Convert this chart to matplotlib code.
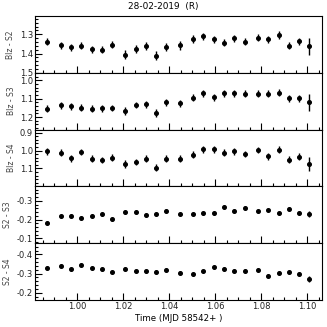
import numpy as np
import matplotlib.pyplot as plt

# time of each observation (MJD - 58542)
mjd = [0.98696, 0.99291, 0.99739, 1.00187, 1.00639, 1.01087, 1.01535, 1.02100,
       1.02552, 1.02987, 1.03435, 1.03870, 1.04478, 1.05043, 1.05491, 1.05943,
       1.06391, 1.06839, 1.07291, 1.07870, 1.08317, 1.08770, 1.09204, 1.09652,
       1.10087]

blz_s2 = [1.339, 1.358, 1.367, 1.360, 1.377, 1.381, 1.354, 1.405, 1.377, 1.361,
          1.411, 1.368, 1.358, 1.326, 1.311, 1.326, 1.344, 1.321, 1.339, 1.319,
          1.326, 1.302, 1.360, 1.337, 1.363]
blz_s2_err = [0.018, 0.018, 0.018, 0.018, 0.018, 0.018, 0.019, 0.024, 0.019, 0.019,
              0.022, 0.021, 0.021, 0.020, 0.018, 0.018, 0.018, 0.018, 0.018, 0.018,
              0.019, 0.020, 0.018, 0.019, 0.045]

blz_s3 = [1.154, 1.136, 1.141, 1.148, 1.154, 1.152, 1.150, 1.168, 1.134, 1.130,
          1.177, 1.120, 1.125, 1.095, 1.071, 1.093, 1.071, 1.071, 1.073, 1.073,
          1.073, 1.068, 1.098, 1.098, 1.120]
blz_s3_err = [0.018, 0.018, 0.018, 0.018, 0.018, 0.018, 0.018, 0.022, 0.018, 0.018,
              0.020, 0.020, 0.020, 0.019, 0.018, 0.018, 0.018, 0.018, 0.018, 0.018,
              0.018, 0.019, 0.018, 0.018, 0.045]

blz_s4 = [1.004, 1.011, 1.043, 1.009, 1.045, 1.054, 1.039, 1.077, 1.063, 1.045,
          1.096, 1.045, 1.046, 1.023, 0.993, 0.993, 1.011, 1.004, 1.018, 0.996,
          1.032, 0.995, 1.050, 1.034, 1.075]
blz_s4_err = [0.018, 0.018, 0.018, 0.018, 0.018, 0.018, 0.018, 0.022, 0.018, 0.018,
              0.020, 0.020, 0.020, 0.019, 0.018, 0.018, 0.018, 0.018, 0.018, 0.018,
              0.018, 0.019, 0.018, 0.018, 0.040]

s2_s3 = [-0.184, -0.218, -0.221, -0.211, -0.221, -0.228, -0.202, -0.239, -0.240, -0.225,
         -0.230, -0.247, -0.230, -0.230, -0.233, -0.233, -0.268, -0.247, -0.263, -0.244,
         -0.251, -0.235, -0.258, -0.237, -0.230]
s2_s3_err = [0.007] * 24 + [0.014]

s2_s4 = [-0.330, -0.341, -0.322, -0.346, -0.329, -0.323, -0.308, -0.325, -0.313, -0.311,
         -0.310, -0.320, -0.305, -0.297, -0.313, -0.334, -0.325, -0.315, -0.315, -0.320,
         -0.289, -0.304, -0.306, -0.299, -0.273]
s2_s4_err = [0.007] * 24 + [0.015]

panels = [
    ("Blz - S2", blz_s2, blz_s2_err, (1.5, 1.205), [1.3, 1.4, 1.5]),
    ("Blz - S3", blz_s3, blz_s3_err, (1.268, 0.959), [1.0, 1.1, 1.2]),
    ("Blz - S4", blz_s4, blz_s4_err, (1.2, 0.882), [0.9, 1.0, 1.1]),
    ("S2 - S3", s2_s3, s2_s3_err, (-0.075, -0.377), [-0.3, -0.2, -0.1]),
    ("S2 - S4", s2_s4, s2_s4_err, (-0.163, -0.459), [-0.4, -0.3, -0.2]),
]

plt.rcParams["font.family"] = ["Liberation Sans Narrow", "DejaVu Sans"]
fig = plt.figure(figsize=(3.27, 3.27), dpi=100)
fig.subplots_adjust(left=0.107, right=0.985, top=0.951, bottom=0.083, hspace=0)
axes = fig.subplots(5, 1, sharex=True)

for ax, (lab, vals, errs, lims, ticks) in zip(axes, panels):
    ax.errorbar(mjd, vals, yerr=errs, fmt="o", color="black", ms=2.6,
                elinewidth=1.0, capsize=0)
    ax.set_ylim(lims)
    ax.set_yticks(ticks)
    ax.set_yticklabels(["%.1f" % t for t in ticks])
    ax.yaxis.set_minor_locator(plt.MultipleLocator(0.02))
    ax.set_ylabel(lab, fontsize=5.5, color="#444444", labelpad=3)
    ax.tick_params(direction="in", which="both", labelsize=6, pad=1.5,
                   width=0.8, labelcolor="#222222")
    ax.tick_params(which="major", length=5)
    ax.tick_params(which="minor", length=2.5)
    for sp in ax.spines.values():
        sp.set_linewidth(0.8)

axes[-1].set_xlim(0.9817, 1.1065)
axes[-1].set_xticks([1.00, 1.02, 1.04, 1.06, 1.08, 1.10])
axes[-1].set_xticklabels(["1.00", "1.02", "1.04", "1.06", "1.08", "1.10"])
axes[-1].xaxis.set_minor_locator(plt.MultipleLocator(0.005))
axes[-1].set_xlabel("Time (MJD 58542+ )", fontsize=6.2, labelpad=2)

fig.suptitle("28-02-2019  (R)", fontsize=6.4, y=0.995)

plt.savefig("out.png", dpi=100)
